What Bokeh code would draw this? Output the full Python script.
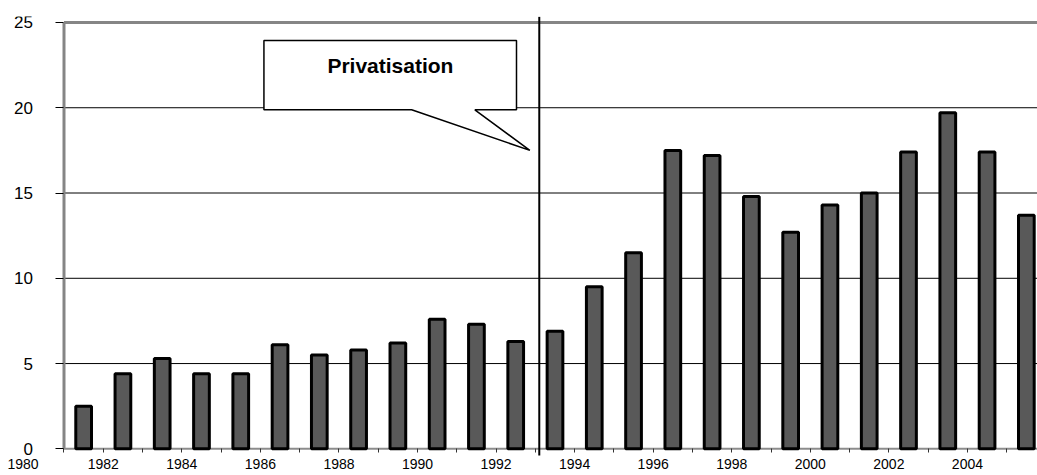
from bokeh.plotting import figure
from bokeh.models import FixedTicker, Range1d
from bokeh.core.properties import value
from bokeh.embed import file_html
from bokeh.resources import INLINE

# ---- data ----
years = [1981, 1982, 1983, 1984, 1985, 1986, 1987, 1988, 1989, 1990, 1991, 1992,
         1993, 1994, 1995, 1996, 1997, 1998, 1999, 2000, 2001, 2002, 2003, 2004, 2005]
values = [2.5, 4.4, 5.3, 4.4, 4.4, 6.1, 5.5, 5.8, 6.2, 7.6, 7.3, 6.3,
          6.9, 9.5, 11.5, 17.5, 17.2, 14.8, 12.7, 14.3, 15.0, 17.4, 19.7, 17.4, 13.7]
tick_labels = ["1982", "1984", "1986", "1988", "1990", "1992", "1994",
               "1996", "1998", "2000", "2002", "2004"]
y_ticks = [0, 5, 10, 15, 20, 25]
grid_ticks = [5, 10, 15, 20]
origin_label = "1980"
annotation_text = "Privatisation"

FONT = "Liberation Sans"

centers = [i + 0.5 for i in range(len(years))]
label_pos = [years.index(int(t)) for t in tick_labels]
origin_pos = -1.044
x_start, x_end = -1.6166, 24.784
y_start, y_end = -0.45, 25.35
y_top = max(y_ticks)

p = figure(width=1037, height=475,
           x_range=Range1d(x_start, x_end), y_range=Range1d(y_start, y_end),
           output_backend="svg", toolbar_location=None,
           min_border_left=0, min_border_right=0, min_border_top=16, min_border_bottom=19)
p.outline_line_color = None
p.background_fill_color = "white"
p.border_fill_color = "white"

# x axis (tick marks reach down from the zero line)
xa = p.xaxis[0]
xa.ticker = FixedTicker(ticks=[origin_pos] + label_pos,
                        minor_ticks=list(range(0, len(years) + 1)))
overrides = {pos: lab for pos, lab in zip(label_pos, tick_labels)}
overrides[origin_pos] = origin_label
xa.major_label_overrides = overrides
xa.major_tick_line_color = None
xa.minor_tick_in = 8
xa.minor_tick_out = -4
xa.major_tick_in = 8
xa.major_tick_out = -4
xa.minor_tick_line_color = "#333333"
xa.axis_line_color = None
xa.major_label_standoff = 6
xa.major_label_text_font = FONT
xa.major_label_text_font_size = "14px"
xa.major_label_text_color = "black"

# y axis drawn at x = 0 inside the wide frame
ya = p.yaxis[0]
ya.fixed_location = 0
ya.ticker = FixedTicker(ticks=y_ticks, minor_ticks=[])
ya.major_tick_out = 8
ya.major_tick_in = 0
ya.major_tick_line_color = "black"
ya.axis_line_color = None
ya.major_label_standoff = 23
ya.major_label_text_font = FONT
ya.major_label_text_font_size = "17px"
ya.major_label_text_color = "black"

p.xgrid.visible = False
p.ygrid.visible = False
# horizontal grid lines starting at the y axis
p.segment(x0=[0] * len(grid_ticks), y0=grid_ticks, x1=[x_end] * len(grid_ticks), y1=grid_ticks,
          line_color="black", line_width=1)

# frame borders: top, left, bottom axis line
p.segment(x0=[0, 0], y0=[y_top, 0], x1=[x_end, 0], y1=[y_top, y_top],
          line_color="#858585", line_width=3)
p.segment(x0=[0], y0=[0], x1=[x_end], y1=[0], line_color="#8c8c8c", line_width=2)

# bars
p.vbar(x=centers, top=values, bottom=0, width=0.4,
       fill_color="#595959", line_color="black", line_width=3)

# privatisation line
p.segment(x0=[12.1], y0=[-0.39], x1=[12.1], y1=[25.33], line_color="black", line_width=2)

# callout
cx = [5.09, 11.52, 11.52, 10.46, 11.86, 8.85, 5.09]
cy = [23.95, 23.95, 19.88, 19.88, 17.5, 19.88, 19.88]
p.patch(cx, cy, fill_color="white", line_color="black", line_width=1.5)
p.text(x=[8.31], y=[22.5], text=[annotation_text], text_font=value(FONT),
       text_font_style="bold", text_font_size="21px",
       text_align="center", text_baseline="middle", text_color="black")

open("out.html", "w").write(file_html(p, INLINE))
